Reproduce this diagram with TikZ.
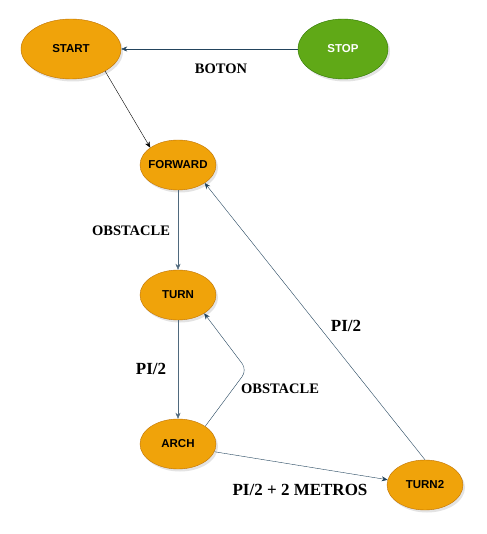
\documentclass[tikz,border=0pt]{standalone}
\usepackage{fontspec}
\setmainfont{Liberation Serif}
\newfontfamily\statefont{Liberation Sans}
\usepackage{tikz}
\usetikzlibrary{arrows.meta,shapes.geometric,shadows}
\definecolor{stateorange}{HTML}{F0A30A}
\definecolor{stateorangeline}{HTML}{BD7000}
\definecolor{stategreen}{HTML}{60A917}
\definecolor{stategreenline}{HTML}{2D7600}
\definecolor{edgeslate}{HTML}{23445D}
\tikzstyle{state}=[ellipse, draw=stateorangeline, fill=stateorange, minimum width=76pt, minimum height=50pt, inner sep=0pt, inner xsep=-12pt, font=\statefont\fontsize{11.5}{13}\selectfont\bfseries, drop shadow={shadow xshift=2pt, shadow yshift=-2.5pt, fill=black!22}]
\tikzstyle{stategreen}=[state, draw=stategreenline, fill=stategreen, text=white]
\tikzstyle{trans}=[font=\fontsize{14.5}{16}\selectfont\bfseries]
\tikzstyle{transbig}=[font=\fontsize{17}{19}\selectfont\bfseries]
\tikzstyle{arrow}=[draw=edgeslate, >={Stealth[length=6pt, width=5pt]}]

\begin{document}
\begin{tikzpicture}[x=1pt, y=1pt]
		   \useasboundingbox (0,0) rectangle (486,-534);
		   \begin{scope}
			   \node (start) at (71, -49)[state, minimum width=100pt, minimum height=60pt] {START};
			   \node (stop) at (343, -49)[stategreen, minimum width=90pt, minimum height=60pt] {STOP};
			   \node (forward) at (178, -165)[state] {FORWARD};
			   \node (turn) at (178, -295)[state] {TURN};
			   \node (arch) at (178, -444)[state] {ARCH};
			   \node (turn2) at (425, -485)[state] {TURN2};
			   \coordinate (bend) at (247, -370);
		   \end{scope}
		   \begin{scope}
			   \node (boton) at (221, -69)[trans] {BOTON};
			   \node (obstacle1) at (131, -231)[trans] {OBSTACLE};
			   \node (pi1) at (151, -369)[transbig] {PI/2};
			   \node (obstacle2) at (280, -389)[trans] {OBSTACLE};
			   \node (pi2) at (346, -326)[transbig] {PI/2};
			   \node (pi3) at (300, -490)[transbig] {PI/2 + 2 METROS};
		   \end{scope}
		   \begin{scope}
			   \draw [arrow, ->] (stop) -- (start);
			   \draw [arrow, draw=black, ->] (start.-33) -- (forward.148);
			   \draw [arrow, draw=edgeslate!80, ->] (forward) -- (turn);
			   \draw [arrow, draw=edgeslate!80, ->] (turn) -- (arch);
			   \draw [arrow, ->, rounded corners=8pt] (arch.33) -- (bend) -- (turn.-35);
			   \draw [arrow, ->] (arch.-12) -- (turn2.172);
			   \draw [arrow, ->] (turn2.north) -- (forward.-34);
		   \end{scope}
	   \end{tikzpicture}
\end{document}
